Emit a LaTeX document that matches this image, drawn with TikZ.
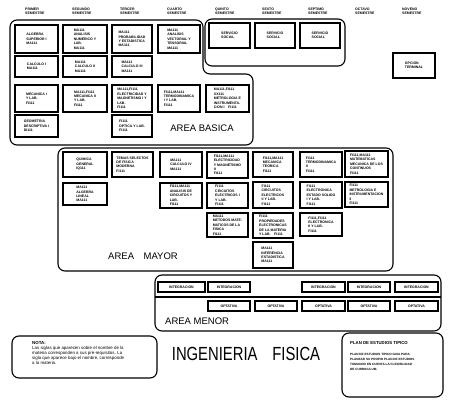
\documentclass[tikz,border=0pt]{standalone}
\usepackage{fontspec}
\setmainfont{Liberation Sans}
\tikzset{
  cbox/.style={draw, line width=1.1pt, inner sep=0.6pt, align=left,
    font=\fontsize{3.5}{4.4}\selectfont\bfseries},
  hdr/.style={anchor=west, align=left, inner sep=0pt,
    font=\fontsize{3.5}{4.2}\selectfont\bfseries},
  area/.style={draw, line width=1.1pt, rounded corners=7pt},
  arealabel/.style={inner sep=0pt, font=\fontsize{9.5}{11}\selectfont},
}
\newcommand{\course}[6]{%
  \node[cbox, minimum width={(#4-#2)*1pt}, minimum height={(#5-#3)*1pt}]
    (#1) at ({(#2+#4)/2},{(#3+#5)/2}) {#6};}
\begin{document}
\begin{tikzpicture}[x=1pt,y=-1pt]
\useasboundingbox (0,0) rectangle (459,403);

% semester headers
\node[hdr] (h1) at (25,11) {PRIMER\\SEMESTRE};
\node[hdr] (h2) at (72,11) {SEGUNDO\\SEMESTRE};
\node[hdr] (h3) at (120,11) {TERCER\\SEMESTRE};
\node[hdr] (h4) at (167,11) {CUARTO\\SEMESTRE};
\node[hdr] (h5) at (215,11) {QUINTO\\SEMESTRE};
\node[hdr] (h6) at (262,11) {SEXTO\\SEMESTRE};
\node[hdr] (h7) at (308,11) {SEPTIMO\\SEMESTRE};
\node[hdr] (h8) at (355,11) {OCTAVO\\SEMESTRE};
\node[hdr] (h9) at (402,11) {NOVENO\\SEMESTRE};

% area outlines
\draw[area] (10,20) -- (203,20) -- (203,74) -- (253,74) -- (253,145) -- (10,145) -- cycle;
\draw[area] (205,19) rectangle (345,66);
\draw[area] (58,148) rectangle (393,271);
\draw[area] (155,275) rectangle (441,331);
\draw[line width=1.1pt] (155,297) -- (441,297);

% AREA BASICA
\course{b11}{15}{25}{58}{53}{ALGEBRA\\SUPERIOR I\\MA111}
\course{b12}{63}{25}{107}{53}{MA111\\ANALISIS\\NUMERICO Y\\LAB.\\MA111}
\course{b13}{112}{25}{152}{53}{MA111\\PROBABILIDAD\\Y ESTADISTICA\\MA111}
\course{b14}{158}{25}{200}{53}{MA111\\ANALISIS\\VECTORIAL Y\\TENSORIAL\\MA111}
\course{b21}{15}{56}{58}{77}{CALCULO I\\MA111}
\course{b22}{63}{56}{107}{77}{MA111\\CALCULO II\\MA111}
\course{b23}{112}{56}{152}{77}{MA111\\CALCULO III\\MA111}
\course{b31}{15}{85}{58}{112}{MECANICA I\\Y LAB.\\FI111}
\course{b32}{63}{85}{107}{112}{MA111,FI111\\MECANICA II\\Y LAB.\\FI111}
\course{b33}{112}{85}{152}{112}{MA111,FI111\\ELECTRICIDAD Y\\MAGNETISMO I Y\\LAB.\\FI111}
\course{b34}{158}{85}{200}{112}{FI111,MA111\\TERMODINAMICA\\I Y LAB.\\FI111}
\course{b35}{206}{85}{249}{112}{MA111,FI111\\XX111\\METROLOGIA E\\INSTRUMENTA-\\CION I\quad FI111}
\course{b41}{15}{115}{58}{137}{GEOMETRIA\\DESCRIPTIVA I\\DI111}
\course{b43}{112}{115}{152}{137}{FI111\\OPTICA Y LAB.\\FI111}
\node[arealabel] (lbasica) at (202,128) {AREA BASICA};

% servicio social / opcion terminal
\course{s5}{209}{23}{250}{48}{SERVICIO\\SOCIAL}
\course{s6}{255}{23}{295}{48}{SERVICIO\\SOCIAL}
\course{s7}{300}{23}{340}{48}{SERVICIO\\SOCIAL}
\course{op}{393}{53}{435}{78}{OPCION\\TERMINAL}

% AREA MAYOR
\course{m11}{63}{152}{107}{177}{QUIMICA\\GENERAL\\IQ111}
\course{m12}{112}{152}{153}{177}{TEMAS SELECTOS\\DE FISICA\\MODERNA\\FI111}
\course{m13}{160}{152}{202}{177}{MA111\\CALCULO IV\\MA111}
\course{m14}{207}{152}{248}{178}{FI111,MA111\\ELECTRICIDAD\\Y MAGNETISMO\\II\\FI111}
\course{m15}{253}{152}{293}{177}{FI111,MA111\\MECANICA\\TEORICA\\FI111}
\course{m16}{300}{152}{342}{177}{FI111\\TERMODINAMICA\\II\\FI111}
\course{m17}{345}{151}{388}{177}{FI111,MA111\\MATEMATICAS\\MECANICA DE LOS\\CONTINUOS\\FI111}
\course{m21}{63}{183}{107}{205}{MA111\\ALGEBRA\\LINEAL\\MA111}
\course{m23}{160}{183}{202}{208}{FI111,MA111\\ANALISIS DE\\CIRCUITOS Y\\LAB.\\FI111}
\course{m24}{207}{183}{248}{208}{FI111\\CIRCUITOS\\ELECTRICOS I\\Y LAB.\\FI111}
\course{m25}{253}{182}{293}{208}{FI111\\CIRCUITOS\\ELECTRICOS\\II Y LAB.\\FI111}
\course{m26}{300}{182}{342}{208}{FI111\\ELECTRONICA\\ESTADO SOLIDO\\I Y LAB.\\FI111}
\course{m27}{345}{182}{388}{207}{FI111\\METROLOGIA E\\INSTRUMENTACION\\II\\FI111}
\course{m34}{207}{213}{248}{237}{MA111\\METODOS MATE-\\MATICOS DE LA\\FISICA\\FI111}
\course{m35}{253}{213}{293}{238}{FI111\\PROPIEDADES\\ELECTRONICAS\\DE LA MATERIA\\Y LAB.\quad FI111}
\course{m36}{300}{213}{342}{236}{FI111,FI111\\ELECTRONICA\\II Y LAB.\\FI111}
\course{m45}{253}{242}{293}{268}{MA111\\INFERENCIA\\ESTADISTICA\\MA111}
\node[arealabel] (lmayor) at (143,256) {AREA\quad MAYOR};

% AREA MENOR
\course{i1}{158}{282}{205}{292}{INTEGRACION}
\course{i2}{208}{282}{250}{292}{INTEGRACION}
\course{i3}{302}{282}{345}{292}{INTEGRACION}
\course{i4}{348}{282}{390}{292}{INTEGRACION}
\course{i5}{395}{282}{438}{292}{INTEGRACION}
\course{o1}{208}{301}{250}{311}{OPTATIVA}
\course{o2}{255}{301}{297}{311}{OPTATIVA}
\course{o3}{302}{301}{345}{311}{OPTATIVA}
\course{o4}{348}{301}{390}{311}{OPTATIVA}
\course{o5}{395}{301}{438}{311}{OPTATIVA}
\node[arealabel, anchor=west] (lmenor) at (165,321) {AREA MENOR};

% nota
\draw[area] (12,336) rectangle (157,378);
\node[anchor=north west, align=left, inner sep=0pt,
  font=\fontsize{4.4}{5}\selectfont] (nota) at (32,341)
  {\textbf{NOTA:}\\Las siglas que aparecen sobre el nombre de la\\materia corresponden a sus pre-requisitos. La\\sigla que aparece bajo el nombre, corresponde\\a la materia.};

% title
\node[inner sep=0pt, font=\fontsize{19}{22}\selectfont] (title) at (246,354)
  {\scalebox{0.78}[1]{INGENIERIA\quad FISICA}};

% plan
\draw[area] (342,333) rectangle (443,397);
\node[anchor=north west, inner sep=0pt, font=\fontsize{4.3}{5}\selectfont\bfseries]
  (plantitle) at (350,341) {PLAN DE ESTUDIOS TIPICO};
\node[anchor=north west, align=left, inner sep=0pt,
  font=\fontsize{3.1}{5}\selectfont\bfseries] (plantext) at (350,353)
  {PLAN DE ESTUDIOS TIPICO GUIA PARA\\PLANEAR SU PROPIO PLAN DE ESTUDIOS\\TOMANDO EN CUENTA LA FLEXIBILIDAD\\DE CURRICULUM.};
\end{tikzpicture}
\end{document}
